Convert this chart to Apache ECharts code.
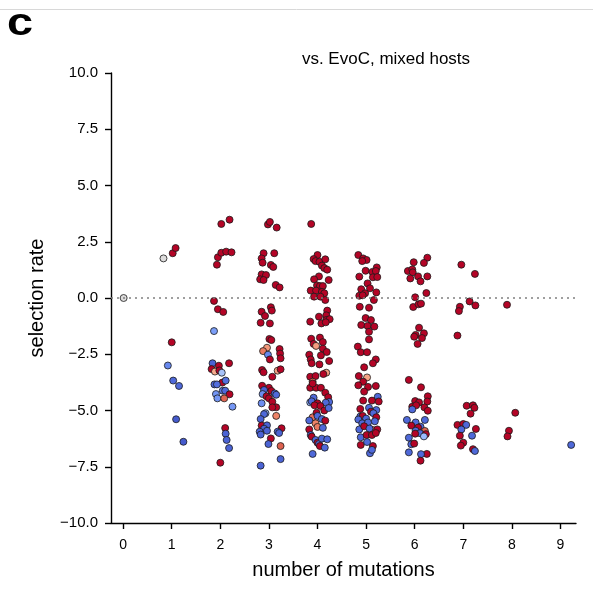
<!DOCTYPE html>
<html>
<head>
<meta charset="utf-8">
<script src="https://cdn.jsdelivr.net/npm/echarts@6/dist/echarts.min.js"></script>
<style>html,body{margin:0;padding:0;background:#fff}#c{width:593px;height:598px}</style>
</head>
<body>
<div id="c"></div>
<script>
// Each point: [number of mutations (jittered), selection rate, host colour value 0..1]
const col0 = [[0.01,0.0,0.5]];
const col1 = [[0.83,1.76,0.5],[1.02,1.99,1],[1.08,2.22,1],[1.0,-1.97,1],[0.92,-3.0,0.2],[1.03,-3.67,0.1],[1.15,-3.91,0.1],[1.09,-5.39,0.05],[1.24,-6.39,0.05]];
const col2 = [[2.02,3.29,1],[2.19,3.48,1],[1.95,1.81,1],[2.02,2.01,1],[2.12,2.06,1],[2.23,2.03,1],[1.93,1.48,1],[1.87,-0.13,1],[1.95,-0.50,1],[2.06,-0.62,1],[1.87,-1.47,0.28],[1.84,-2.90,0.08],[2.18,-2.90,1],[1.82,-3.16,1],[1.97,-3.01,1],[1.89,-3.27,0.7],[1.98,-3.22,1],[2.03,-3.32,0.42],[2.04,-3.76,1],[2.11,-3.67,0.12],[1.88,-3.84,0.1],[1.93,-3.84,0.12],[2.05,-4.12,0.15],[2.10,-4.12,0.1],[1.91,-4.27,0.25],[2.19,-4.28,1],[1.94,-4.46,0.25],[2.08,-4.46,0.86],[2.25,-4.83,0.25],[2.10,-5.78,1],[2.11,-6.03,0.08],[2.13,-6.31,0.08],[2.18,-6.67,0.08],[2.00,-7.32,1]];
const col3 = [[2.98,3.27,1],[3.02,3.38,1],[3.16,3.13,1],[2.89,1.99,1],[3.11,1.99,1],[2.85,1.76,1],[2.87,1.57,1],[3.04,1.47,1],[3.09,1.38,1],[2.85,1.05,1],[2.94,1.02,1],[2.82,0.83,1],[2.89,0.80,1],[3.14,0.58,1],[3.22,0.47,1],[2.85,-0.61,1],[3.04,-0.41,1],[3.06,-0.56,1],[2.92,-0.80,1],[2.83,-1.10,1],[3.02,-1.13,1],
[3.01,-1.82,1],[3.05,-1.87,1],[2.96,-2.21,0.75],[2.88,-2.36,0.82],[2.98,-2.52,0.2],[3.02,-2.73,1],[3.22,-2.27,1],[3.23,-2.47,1],[3.24,-2.68,1],[2.86,-3.2,1],[2.89,-3.30,1],[3.07,-3.50,1],[3.18,-3.23,0.74],[3.24,-3.17,1],[2.86,-3.90,1],[3.0,-3.99,1],[2.9,-4.09,0.08],[3.05,-4.13,1],[3.12,-4.24,0.08],[2.87,-4.27,0.22],[2.95,-4.37,1],[3.0,-4.46,1],[3.15,-4.3,0.1],[3.07,-4.61,1],[2.85,-4.68,0.22],[3.15,-4.86,1],[3.07,-4.86,1],[2.93,-5.12,0.35],[2.90,-5.16,0.1],[3.15,-5.24,0.8],[2.83,-5.38,0.08],[2.85,-5.67,1],[2.96,-5.66,0.08],[2.90,-5.81,0.08],[3.26,-5.79,1],[2.81,-5.94,0.08],[2.83,-6.07,0.08],[2.96,-5.9,0.08],[3.18,-5.94,0.08],[3.21,-6.0,0.08],[3.04,-6.24,1],[2.99,-6.49,0.08],[3.24,-6.58,0.87],[3.24,-7.16,0.08],[2.83,-7.45,0.08]];
const col4 = [[3.87,3.29,1],[4.0,1.91,1],[3.92,1.73,1],[3.96,1.64,1],[4.04,1.61,1],[4.16,1.72,1],[4.09,1.44,1],[4.14,1.33,1],[4.2,1.26,1],[4.03,0.96,1],[3.93,0.83,1],[4.23,0.80,1],[3.99,0.56,1],[4.05,0.53,1],[4.11,0.53,1],[3.86,0.33,1],[3.97,0.33,1],[4.09,0.27,1],[4.14,0.21,1],[3.93,0.06,1],[4.06,0.06,1],[4.16,-0.09,1],[4.2,-0.56,1],[4.03,-0.83,1],[4.18,-0.77,1],[4.18,-0.98,1],[4.25,-0.94,1],[3.85,-1.05,1],[4.08,-1.13,1],[4.17,-1.08,1],
[3.87,-1.81,1],[4.05,-1.76,1],[3.92,-2.04,1],[3.97,-2.13,0.74],[4.11,-1.96,1],[4.11,-2.25,1],[4.19,-2.40,1],[3.83,-2.52,1],[3.86,-2.73,1],[4.07,-2.55,1],[3.88,-2.90,1],[4.04,-2.95,1],[4.24,-2.80,1],[3.85,-3.50,1],[3.96,-3.47,1],[4.18,-3.32,0.74],[4.12,-3.38,1],[3.85,-3.99,1],[3.97,-3.99,1],[4.07,-3.99,1],[3.9,-3.72,0.85],[3.9,-3.8,1],[4.16,-4.21,1],[4.22,-4.41,1],[3.92,-4.43,0.1],[3.85,-4.64,0.38],[3.88,-4.59,0.1],[4.24,-4.62,0.1],[4.17,-4.65,0.1],[4.0,-4.68,1],[3.94,-4.77,1],[4.06,-4.8,1],[4.14,-5.0,1],[4.23,-4.89,0.1],[3.9,-5.30,0.84],[3.98,-5.10,1],[4.0,-5.24,0.1],[3.83,-5.44,0.1],[3.96,-5.57,0.8],[4.09,-5.38,0.1],[4.16,-5.45,1],[4.0,-5.73,0.82],[3.83,-5.84,1],[4.11,-5.77,0.1],[3.86,-6.09,0.1],[3.88,-6.16,1],[3.96,-6.31,0.1],[4.0,-6.43,1],[4.03,-6.49,0.1],[4.09,-6.25,0.1],[4.2,-6.28,0.1],[4.05,-6.58,1],[4.15,-6.65,0.1],[3.9,-6.93,0.1]];
const col5 = [[4.84,1.91,1],[4.94,1.76,1],[5.01,1.69,1],[4.92,1.64,1],[5.22,1.36,1],[4.99,1.21,1],[5.13,1.16,1],[5.2,1.2,1],[4.86,0.95,1],[5.14,0.92,1],[5.23,0.93,1],[5.03,0.65,1],[4.9,0.39,1],[5.08,0.43,1],[4.98,0.21,1],[5.21,0.25,1],[4.86,0.10,1],[4.93,0.12,1],[5.16,-0.09,1],[4.87,-0.39,1],[5.06,-0.43,1],[4.99,-0.89,1],[5.1,-0.98,1],[4.9,-1.2,1],[5.03,-1.24,1],[5.17,-1.27,1],
[5.06,-1.50,1],[5.06,-1.84,1],[4.83,-2.16,1],[4.89,-2.41,1],[5.02,-2.41,1],[5.2,-2.73,1],[5.14,-2.90,1],[4.96,-3.08,1],[4.85,-3.47,1],[5.02,-3.53,0.72],[4.94,-3.72,1],[4.84,-3.88,1],[5.2,-3.91,1],[5.04,-3.95,1],[4.96,-4.16,1],[5.24,-4.39,0.1],[4.94,-4.56,1],[5.12,-4.56,1],[5.26,-4.6,1],[5.06,-4.88,0.1],[4.88,-4.93,1],[5.21,-4.98,0.1],[5.1,-5.05,1],[5.15,-5.12,0.1],[4.88,-5.27,0.1],[4.93,-5.24,1],[5.0,-5.36,0.1],[5.21,-5.30,1],[4.84,-5.4,0.1],[4.92,-5.57,0.1],[5.04,-5.53,0.1],[5.18,-5.48,0.1],[5.14,-5.87,0.86],[4.86,-5.84,0.1],[4.96,-5.7,1],[5.07,-5.8,0.1],[5.23,-5.84,1],[4.89,-6.19,0.1],[5.01,-6.09,1],[5.12,-6.09,1],[5.2,-6.0,1],[4.89,-6.53,1],[5.14,-6.58,1],[5.08,-6.9,0.1],[5.02,-6.4,0.1],[5.12,-6.75,0.1]];
const col6 = [[6.26,1.79,1],[5.98,1.59,1],[6.19,1.56,1],[5.86,1.2,1],[5.95,1.27,1],[5.96,1.14,1],[5.91,0.87,1],[6.07,0.96,1],[6.26,0.96,1],[6.12,0.74,1],[6.24,0.22,1],[6.01,0.03,1],[5.97,-0.40,1],[6.08,-0.28,1],[6.13,-0.25,1],[6.09,-1.32,1],[6.02,-1.64,1],[6.19,-1.57,1],[6.15,-1.78,1],[5.99,-1.72,1],[6.06,-2.04,1],
[5.88,-3.64,1],[6.13,-3.97,1],[6.27,-4.37,1],[6.01,-4.58,1],[6.09,-4.64,1],[6.26,-4.6,1],[5.95,-4.83,1],[6.03,-4.77,1],[6.2,-4.86,1],[6.27,-5.01,1],[5.95,-4.95,0.1],[5.84,-5.42,0.1],[6.02,-5.53,0.1],[6.21,-5.42,0.1],[5.93,-5.67,1],[6.12,-5.72,0.1],[6.07,-5.76,1],[6.21,-5.91,0.86],[6.02,-5.9,0.1],[6.11,-6.01,0.1],[6.23,-6.05,1],[6.01,-6.03,1],[5.88,-6.21,0.1],[6.19,-6.15,0.4],[5.93,-6.5,0.1],[5.99,-6.47,1],[5.88,-6.86,0.1],[6.25,-6.93,1],[6.13,-6.94,0.1],[6.12,-7.23,1]];
const col7 = [[6.96,1.48,1],[7.24,1.07,1],[7.13,-0.15,1],[6.93,-0.39,1],[7.25,-0.33,1],[6.91,-0.58,1],[6.88,-1.67,1],[7.07,-4.79,1],[7.2,-4.77,1],[7.23,-4.88,1],[7.15,-5.14,1],[6.88,-5.64,1],[7.0,-5.6,1],[7.06,-5.64,0.1],[6.96,-5.84,0.1],[7.26,-5.82,1],[6.93,-6.12,1],[7.18,-6.12,0.1],[7.0,-6.43,1],[6.95,-6.56,1],[7.2,-6.72,1],[7.24,-6.8,0.1]];
const col8 = [[7.9,-0.30,1],[8.07,-5.10,1],[7.94,-5.9,1],[7.91,-6.15,1]];
const col9 = [[9.22,-6.53,0.1]];

const xTicks = [0,1,2,3,4,5,6,7,8,9];
const coolwarm = ['#3b4cc0','#4f69d9','#6788ee','#80a3fa','#9abbff','#dddcdc','#f2cbb7','#f7ac8e','#ee8468','#d65244','#b40426'];

const allPoints = [].concat(col0,col1,col2,col3,col4,col5,col6,col7,col8,col9);
const FONT = "'Liberation Sans', Arial, sans-serif";

const chart = echarts.init(document.getElementById('c'), null, {renderer:'canvas'});
chart.setOption({
  animation: false,
  backgroundColor: '#fff',
  title: {
    text: 'vs. EvoC, mixed hosts',
    left: 381, top: 46, textAlign: 'center',
    textStyle: {fontFamily: FONT, fontSize: 17, fontWeight: 'normal', color: '#000'}
  },
  graphic: [
    {type:'line', shape:{x1:0,y1:9.5,x2:593,y2:9.5}, style:{stroke:'#d8d8d8', lineWidth:1}},
    {type:'text', x: 7, y: 5, scaleX: 1.2, style:{text:'c', font:"bold 39px 'Liberation Sans', Arial, sans-serif", fill:'#000'}}
  ],
  grid: {left: 111, right: 17, top: 73, bottom: 75, containLabel: false},
  visualMap: {show:false, type:'continuous', min:0, max:1, dimension:2, inRange:{color: coolwarm}},
  xAxis: {
    type:'value', min:-0.25, max:9.32,
    name:'number of mutations', nameLocation:'middle', nameGap:37,
    nameTextStyle:{fontFamily:FONT, fontSize:20, color:'#000'},
    axisLine:{show:true, onZero:false, lineStyle:{color:'#000', width:1.4}},
    axisTick:{show:true, inside:false, length:6, customValues: xTicks, lineStyle:{color:'#000', width:1.4}},
    axisLabel:{customValues: xTicks, margin:15, fontFamily:FONT, fontSize:14, color:'#000'},
    splitLine:{show:false}
  },
  yAxis: {
    type:'value', min:-10, max:10, interval:2.5,
    name:'selection rate', nameLocation:'middle', nameGap:64,
    nameTextStyle:{fontFamily:FONT, fontSize:20, color:'#000'},
    axisLine:{show:true, onZero:false, lineStyle:{color:'#000', width:1.4}},
    axisTick:{show:true, inside:false, length:6, lineStyle:{color:'#000', width:1.4}},
    axisLabel:{margin:13, fontFamily:FONT, fontSize:15, color:'#000',
      formatter: v => v.toFixed(1).replace('-', '\u2212')},
    splitLine:{show:false}
  },
  series: [{
    type:'scatter',
    data: allPoints,
    symbolSize: 7,
    itemStyle:{borderColor:'#1a1a1a', borderWidth:0.8, opacity:1},
    markLine: {
      silent:true, symbol:['none','none'], label:{show:false},
      lineStyle:{type:[2,4], color:'#808080', width:1.6},
      data:[{yAxis:0}]
    },
    z: 3
  }]
});
</script>
</body>
</html>
